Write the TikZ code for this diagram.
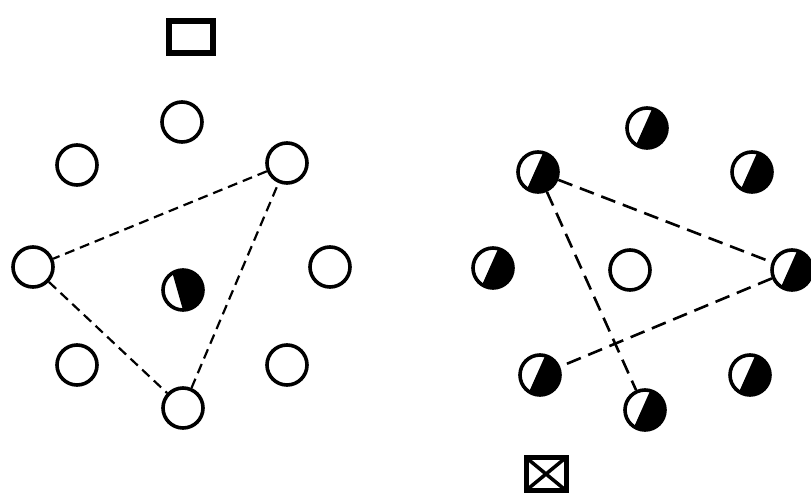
\documentclass[tikz,border=0pt]{standalone}
\begin{document}
\begin{tikzpicture}[x=1pt,y=-1pt,
  circ/.style={circle,draw,line width=3.6pt,minimum size=40pt,inner sep=0pt},
  halfc/.style={circ,path picture={\fill (path picture bounding box.center) ++(75:20pt) arc (75:-123:20pt) -- cycle;}},
  halfbig/.style={circ,path picture={\fill (path picture bounding box.center) ++(122:20pt) arc (122:-90:20pt) -- cycle;}},
  ldash/.style={line width=2.2pt,dash pattern=on 10pt off 6pt},
  rdash/.style={line width=2.6pt,dash pattern=on 15pt off 8pt},
  sq/.style={draw,line width=6pt,minimum width=44pt,minimum height=32pt,inner sep=0pt}]
\useasboundingbox (0,0) rectangle (811,494);
% left group
\node[sq] (sqL) at (191,37) {};
\node[circ] (L1) at (182,122) {};
\node[circ] (L2) at (77,165) {};
\node[circ] (L3) at (287,163) {};
\node[circ] (L4) at (33,267) {};
\node[halfbig] (L5) at (183,290) {};
\node[circ] (L6) at (330,267) {};
\node[circ] (L7) at (77,365) {};
\node[circ] (L8) at (287,365) {};
\node[circ] (L9) at (183,408) {};
\draw[ldash] (L3) -- (L4);
\draw[ldash] (L4) -- (L9);
\draw[ldash] (L9) -- (L3);
% right group
\node[halfc] (R1) at (647,128) {};
\node[halfc] (R2) at (538,172) {};
\node[halfc] (R3) at (752,172) {};
\node[halfc] (R4) at (493,268) {};
\node[circ] (R5) at (630,270) {};
\node[halfc] (R6) at (792,270) {};
\node[halfc] (R7) at (540,375) {};
\node[halfc] (R8) at (750,375) {};
\node[halfc] (R9) at (645,410) {};
\draw[rdash] (R2) -- (R6);
\draw[rdash] (R6) -- (R7);
\draw[rdash] (R2) -- (R9);
\node[sq,line width=5pt,minimum width=40pt,minimum height=33pt,
  path picture={\draw[line width=3.5pt] (path picture bounding box.south west) -- (path picture bounding box.north east) (path picture bounding box.north west) -- (path picture bounding box.south east);}] (sqR) at (546,474) {};
\end{tikzpicture}
\end{document}
